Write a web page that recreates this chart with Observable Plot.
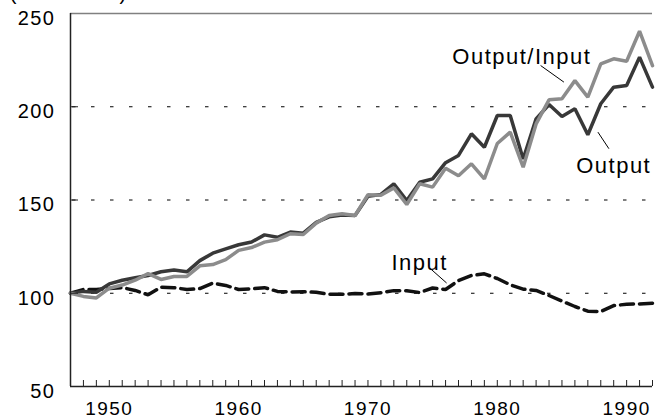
<!DOCTYPE html>
<html><head><meta charset="utf-8">
<script src="https://cdn.jsdelivr.net/npm/d3@7"></script>
<script src="https://cdn.jsdelivr.net/npm/@observablehq/plot@0.6"></script>
<style>html,body{margin:0;padding:0;background:#fff;}</style>
</head><body><div id="chart"></div>
<script>
const years = [1947,1948,1949,1950,1951,1952,1953,1954,1955,1956,1957,1958,1959,1960,1961,1962,1963,1964,1965,1966,1967,1968,1969,1970,1971,1972,1973,1974,1975,1976,1977,1978,1979,1980,1981,1982,1983,1984,1985,1986,1987,1988,1989,1990,1991,1992];
const output = [100,101,100.5,105,107,108.3,109.5,111.5,112.5,111.5,117.5,121.5,123.8,126,127.5,131.3,130,132.8,132.2,138,141,142,141.7,152,153,158.7,149.7,159.5,161.3,170,173.9,185.5,178.3,195.3,195.3,172,193.5,201.2,194.8,198.9,185,201.6,210.5,211.4,226.6,210.5];
const outputPerInput = [100,98.3,97.5,102.7,104.4,107,110.5,107.4,109,109,114.7,115.4,118,123,124.5,127.4,128.7,131.9,131.5,137.6,141.7,142.6,141.7,152.8,152.5,156.5,147.6,158.7,156.9,167,163,169.4,161.3,180.3,186.4,167.6,190.8,203.7,204.3,214,205.2,223,225.7,224.4,240.5,222];
const input = [100,102,102,102.6,103,101.5,99.2,103.3,103,102,102.5,105.4,104.2,102,102.4,103,101,100.7,100.8,100.5,99.5,99.5,99.8,99.6,100.3,101.4,101.3,100.4,102.8,102,106.8,109.5,110.4,107.9,104.5,102.2,101.5,98.8,95.8,92.9,90.4,90.2,93.4,94.1,94.3,94.7];
const xTickLabels = [1950,1960,1970,1980,1990];
const yTickLabels = [50,100,150,200,250];
const gridValues = [100,150,200];
const titleText = "Index (1947=100)";

// annotations in data coordinates (year, index)
const annotations = [
  {text: "Output/Input", year: 1981.9, value: 226.9},
  {text: "Output", year: 1989.0, value: 168.2},
  {text: "Input", year: 1974.0, value: 116.5}
];
const leaders = [
  {y0: 1983.35, v0: 222.1, y1: 1985.15, v1: 213.2},
  {y0: 1987.78, v0: 186.4, y1: 1988.63, v1: 177.5},
  {y0: 1974.84, v0: 113.1, y1: 1976.08, v1: 105.5}
];

const rows = (vals) => years.map((y, i) => ({year: y, value: vals[i]}));

const W = 657, H = 419, mL = 70, mR = 5, mT = 13, mB = 33;
const frameW = W - mL - mR, frameH = H - mT - mB;

const svg = Plot.plot({
  width: W, height: H,
  marginLeft: mL, marginRight: mR, marginTop: mT, marginBottom: mB,
  x: {domain: [years[0], years[years.length - 1]]},
  y: {domain: [50, 250]},
  style: {fontFamily: "'Liberation Sans', Arial, sans-serif", fontSize: "20px", letterSpacing: "1.5px", color: "#000", background: "#fff", overflow: "visible"},
  marks: [
    Plot.ruleY(gridValues, {y: d => d, stroke: "#000", strokeWidth: 1, strokeDasharray: "3.5,15.5", insetLeft: 2, insetRight: 3}),
    Plot.line(rows(input), {x: "year", y: "value", stroke: "#111", strokeWidth: 3.5, strokeDasharray: "13,6", strokeLinejoin: "miter"}),
    Plot.line(rows(output), {x: "year", y: "value", stroke: "#383838", strokeWidth: 3.5, strokeLinejoin: "miter"}),
    Plot.line(rows(outputPerInput), {x: "year", y: "value", stroke: "#8c8c8c", strokeWidth: 3.5, strokeLinejoin: "miter"}),
    Plot.ruleY([250], {y: d => d, stroke: "#808080", strokeWidth: 1.5}),
    Plot.ruleY([50], {y: d => d, stroke: "#222", strokeWidth: 1.5}),
    Plot.ruleX([years[0]], {x: d => d, stroke: "#222", strokeWidth: 1.5}),
    Plot.tickX(years, {x: d => d, insetTop: frameH - 6, stroke: "#222", strokeWidth: 1}),
    Plot.tickY(gridValues, {y: d => d, insetRight: frameW - 8, stroke: "#222", strokeWidth: 1}),
    Plot.axisX(xTickLabels, {tickSize: 0, tickPadding: 15, fontSize: 19, tickFormat: d => String(d)}),
    Plot.axisY(yTickLabels, {tickSize: 0, tickPadding: 15, dy: 5, tickFormat: d => String(d)}),
    Plot.link(leaders, {x1: "y0", y1: "v0", x2: "y1", y2: "v1", stroke: "#000", strokeWidth: 1}),
    Plot.text(annotations, {x: "year", y: "value", text: "text", fontSize: 22, textAnchor: "middle", fill: "#000", style: "letter-spacing:1px"})
  ]
});
d3.select(svg).append("text")
  .attr("x", 37).attr("y", -0.5)
  .attr("fill", "#000")
  .text(titleText);
document.getElementById("chart").appendChild(svg);
</script>
</body></html>
